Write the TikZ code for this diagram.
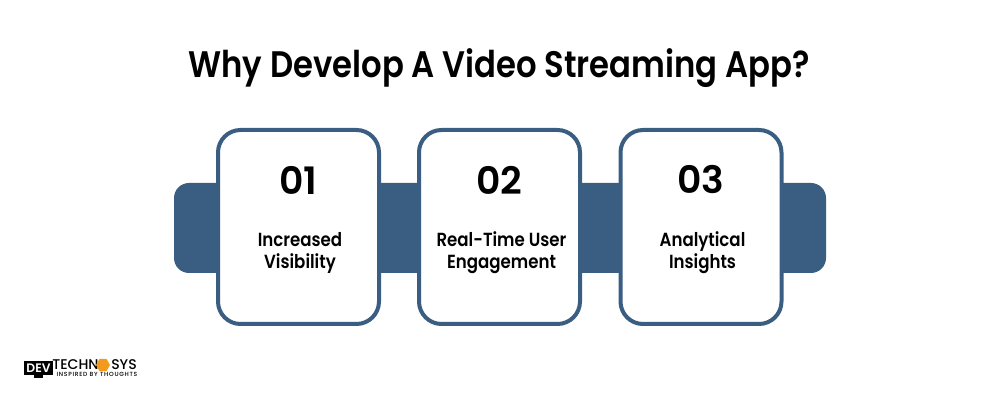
\documentclass[tikz,border=0pt]{standalone}
\usepackage{fontspec}
\setmainfont{Poppins SemiBold}[FakeStretch=0.875]
\newfontfamily\numfont{Poppins SemiBold}
\newfontfamily\logofont{Poppins Medium}
\newfontfamily\tagfont{Poppins Medium}[LetterSpace=12]
\usepackage{tikz}
\usetikzlibrary{shapes.geometric}
\definecolor{bandblue}{HTML}{3A5D82}
\definecolor{logoorange}{HTML}{F39A1E}
\begin{document}
\begin{tikzpicture}
[card/.style={rounded corners=4.5mm, minimum width=3.22cm, minimum height=3.88cm, draw=bandblue, line width=0.08cm, fill=white},
 band/.style={rounded corners=3mm, minimum width=13.04cm, minimum height=1.8cm, fill=bandblue},
 num/.style={font=\numfont\fontsize{21.5}{26}\selectfont, text=black},
 lbl/.style={font=\fontsize{10.8}{12.6}\selectfont, align=center, text=black},
 logo/.style={inner sep=0pt, text=black}]
    \useasboundingbox (0,0) rectangle (20,8);
    \node[font=\fontsize{21}{25}\selectfont] (title) at (9.98,6.64) {Why Develop A Video Streaming App?};
    \node[band] (B) at (10,3.44) {};
    \node[card] (C1) at (5.97,3.46) {};
    \node[card] (C2) at (9.99,3.46) {};
    \node[card] (C3) at (14.02,3.46) {};
    \node[num] (N1) at (5.97,4.40) {01};
    \node[num] (N2) at (9.99,4.40) {02};
    \node[num] (N3) at (14.02,4.40) {03};
    \node[lbl] (L1) at (6.0,2.94) {Increased\\Visibility};
    \node[lbl] (L2) at (10.03,2.94) {Real-Time User\\Engagement};
    \node[lbl] (L3) at (14.05,2.94) {Analytical\\Insights};
    % logo
    \fill[black] (0.48,0.5) rectangle (1.06,0.78);
    \fill[black] (0.68,0.5) rectangle (0.86,0.44);
    \node[logo, text=white, font=\numfont\fontsize{7}{7}\selectfont] (dev) at (0.77,0.64) {DEV};
    \node[logo, font=\logofont\fontsize{8}{8}\selectfont] (techn) at (1.51,0.7) {TECHN};
    \node[logo, regular polygon, regular polygon sides=6, fill=logoorange, minimum size=0.28cm] (hex) at (2.06,0.7) {};
    \node[logo, font=\logofont\fontsize{8}{8}\selectfont] (sys) at (2.48,0.7) {SYS};
    \node[logo, font=\tagfont\fontsize{3.4}{4}\selectfont] (tag) at (1.94,0.52) {INSPIRED BY THOUGHTS};
\end{tikzpicture}
\end{document}
